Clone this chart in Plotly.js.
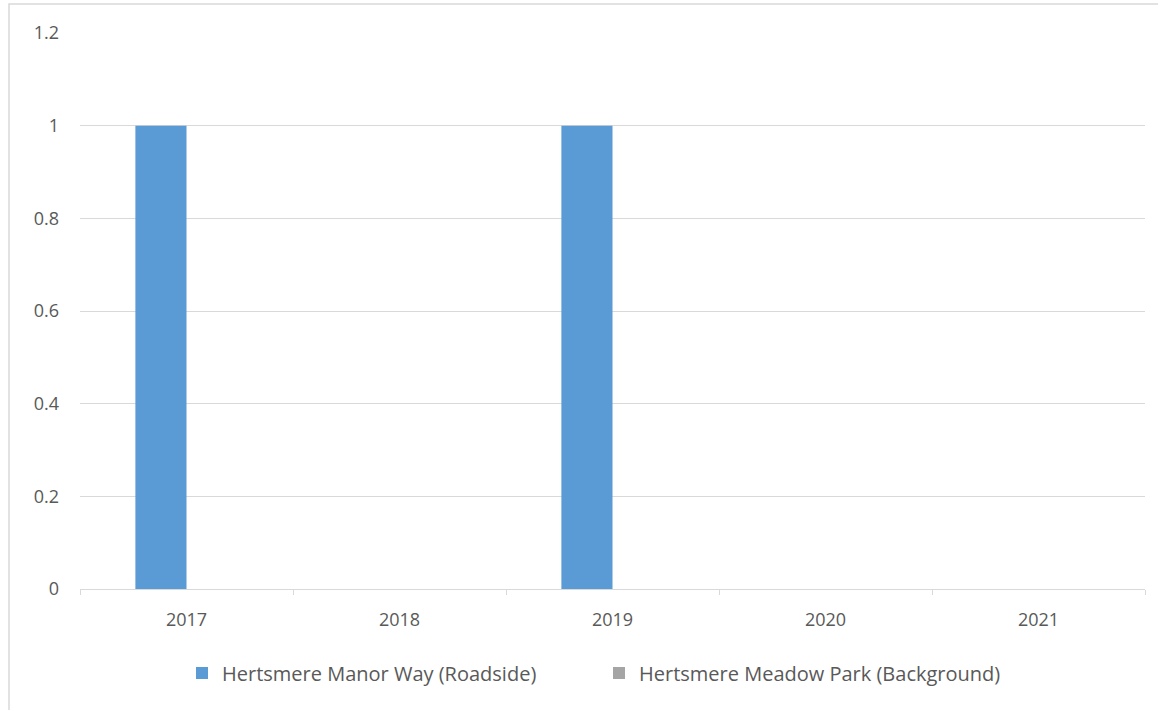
<!DOCTYPE html>
<html>
<head>
<meta charset="utf-8">
<script src="https://cdn.plot.ly/plotly-3.0.1.min.js"></script>
<style>html,body{margin:0;padding:0;background:#fff;}#chart{width:1158px;height:710px;}</style>
</head>
<body>
<div id="chart"></div>
<script>
const years = ["2017", "2018", "2019", "2020", "2021"];
const manorWay = [1, 0, 1, 0, 0];
const meadowPark = [0, 0, 0, 0, 0];
const yTicks = [0, 0.2, 0.4, 0.6, 0.8, 1, 1.2];
const yTickLabels = ["0", "0.2", "0.4", "0.6", "0.8", "1", "1.2"];

const fam = "Open Sans, Liberation Sans, sans-serif";
const tickFont = {family: fam, size: 18, color: "#595959"};

const traces = [
  {type: "bar", name: "Hertsmere Manor Way (Roadside)", x: years, y: manorWay,
   marker: {color: "#5B9BD5"}},
  {type: "bar", name: "Hertsmere Meadow Park (Background)", x: years, y: meadowPark,
   marker: {color: "#A5A5A5"}}
];

const layout = {
  width: 1158, height: 710,
  margin: {l: 80, r: 13, t: 33, b: 121},
  paper_bgcolor: "#fff", plot_bgcolor: "#fff",
  font: tickFont,
  barmode: "group", bargap: 0.52, bargroupgap: 0,
  showlegend: true,
  legend: {orientation: "h", x: 102/1065, xanchor: "left", y: -0.151, yanchor: "middle",
           entrywidth: 372, entrywidthmode: "pixels",
           font: {family: fam, size: 20, color: "#595959"}, itemwidth: 30, traceorder: "normal"},
  xaxis: {type: "category", showgrid: false, showline: true, linecolor: "#d9d9d9", linewidth: 1,
          ticks: "outside", tickson: "boundaries", ticklen: 5, tickcolor: "#d9d9d9",
          ticklabelstandoff: 14, tickfont: tickFont, zeroline: false, fixedrange: true},
  yaxis: {range: [0, 1.2], tickvals: yTicks, ticktext: yTickLabels, showgrid: true,
          gridcolor: "#d9d9d9", gridwidth: 1, zeroline: false, showline: false,
          ticks: "", ticklabelstandoff: 20, tickfont: tickFont, fixedrange: true},
  shapes: [{type: "rect", xref: "paper", yref: "paper",
            x0: -71/1065, x1: 20/1065 + 1, y0: -140/556, y1: 1 + 29/556,
            line: {color: "#d9d9d9", width: 1.5}, fillcolor: "rgba(0,0,0,0)", layer: "below"}]
};

Plotly.newPlot("chart", traces, layout, {displayModeBar: false, staticPlot: true});
</script>
</body>
</html>
